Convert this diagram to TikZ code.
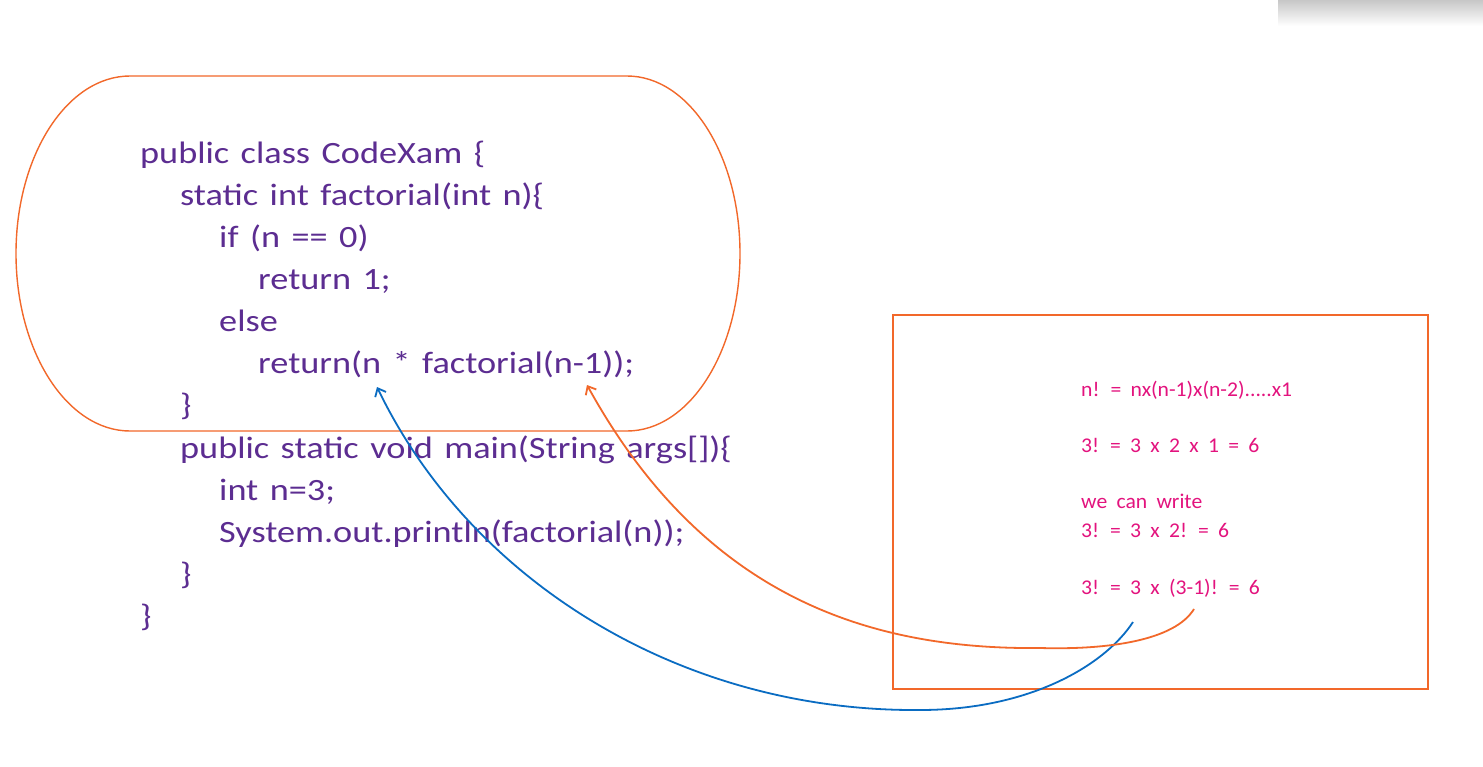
\documentclass[tikz,border=0pt]{standalone}
\usepackage{fontspec}
\setmainfont{Carlito}
\newfontfamily\codefont[FakeStretch=1.17, WordSpace=1.4]{Carlito}
\newfontfamily\notefont[FakeStretch=1.03, WordSpace=1.9]{Carlito}
\usetikzlibrary{arrows.meta}
\definecolor{frameor}{HTML}{F2682A}
\definecolor{arrblue}{HTML}{0A6CC2}
\definecolor{codepur}{HTML}{5C2D91}
\definecolor{notepink}{HTML}{E3137E}
\tikzset{
  code/.style={anchor=base west, inner sep=0pt, text=codepur, font=\codefont\fontsize{31}{31}\selectfont},
  note/.style={anchor=base west, inner sep=0pt, text=notepink, font=\notefont\fontsize{21}{21}\selectfont},
  frame/.style={draw=frameor, line width=1.4pt},
  link/.style={line width=1.8pt, -{Straight Barb[length=7pt,width=12pt]}},
}
\begin{document}
\begin{tikzpicture}[x=1pt,y=-1pt]
\useasboundingbox (0,0) rectangle (1483,766);
\fill[white] (0,0) rectangle (1483,766);
% shadow bar top right
\shade[top color=black!22, bottom color=white] (1278,0) rectangle (1483,26);
% stadium frame
\draw[frame] (130,76) -- (627,76)
  arc[start angle=-90, end angle=90, x radius=113, y radius=177.5]
  -- (130,431)
  arc[start angle=90, end angle=270, x radius=114, y radius=177.5]
  -- cycle;
% note frame
\draw[frame] (893,315) rectangle (1428,689);
% code
\node[code] (l1) at (140,163) {public class CodeXam \{};
\node[code] (l2) at (180,205) {static int factorial(int n)\{};
\node[code] (l3) at (219,247) {if (n == 0)};
\node[code] (l4) at (258,289) {return 1;};
\node[code] (l5) at (219,331) {else};
\node[code] (l6) at (258,373) {return(n * factorial(n-1));};
\node[code] (l7) at (180,415) {\}};
\node[code] (l8) at (180,458) {public static void main(String args[])\{};
\node[code] (l9) at (219,500) {int n=3;};
\node[code] (l10) at (219,542) {System.out.println(factorial(n));};
\node[code] (l11) at (180,584) {\}};
\node[code] (l12) at (140,626) {\}};
% notes
\node[note] (n1) at (1081,396) {n! = nx(n-1)x(n-2).....x1};
\node[note] (n2) at (1081,452) {3! = 3 x 2 x 1 = 6};
\node[note] (n3) at (1081,508) {we can write};
\node[note] (n4) at (1081,537) {3! = 3 x 2! = 6};
\node[note] (n5) at (1081,594) {3! = 3 x (3-1)! = 6};
% connector ends
\coordinate (bs) at (1133,622);
\coordinate (bm) at (920,710);
\coordinate (bt) at (377,387);
\coordinate (os) at (1194,609);
\coordinate (om) at (1040,648);
\coordinate (ot) at (587,385);
\draw[link, draw=arrblue] (bs) .. controls (1105,665) and (1030,710) .. (bm)
  .. controls (680,712) and (470,580) .. (bt);
\draw[link, draw=frameor] (os) .. controls (1175,640) and (1110,650) .. (om)
  .. controls (860,650) and (700,590) .. (ot);
\end{tikzpicture}
\end{document}
